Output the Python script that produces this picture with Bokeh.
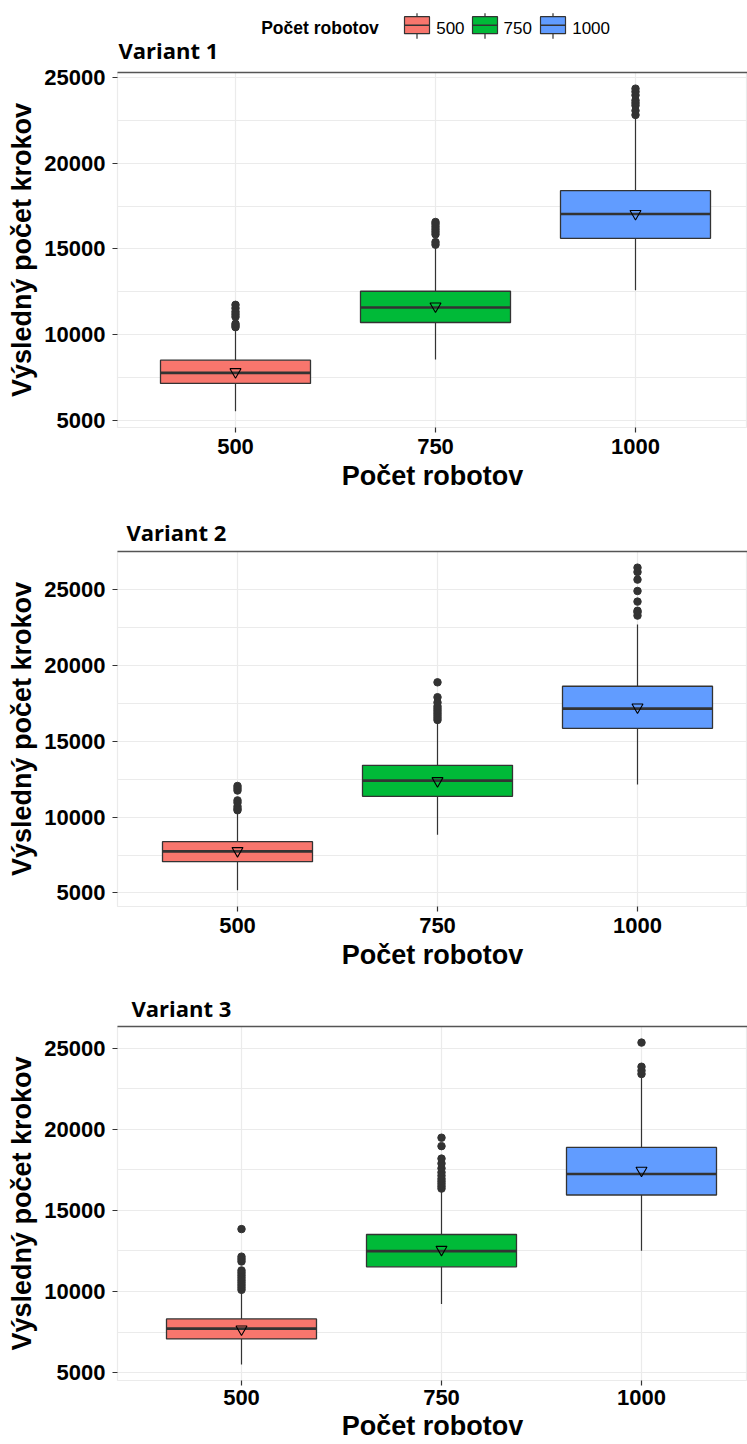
from bokeh.plotting import figure
from bokeh.models import Range1d, FixedTicker, LinearAxis, ColumnDataSource, NumeralTickFormatter
from bokeh.layouts import column
from bokeh.embed import file_html
from bokeh.resources import INLINE
from bokeh.core.properties import value

# ---------------- data ----------------
robots = ["500", "750", "1000"]
box_colors = ["#F8766D", "#00BA38", "#619CFF"]
legend_title = "Počet robotov"
x_title = "Počet robotov"
y_title = "Výsledný počet krokov"
y_ticks = [5000, 10000, 15000, 20000, 25000]
y_minor = [2500, 7500, 12500, 17500, 22500, 27500]

v1_title = "Variant 1"
v1_q1 = [7174, 10721, 15622]
v1_median = [7791, 11593, 17035]
v1_q3 = [8529, 12541, 18395]
v1_low = [5550, 8570, 12600]
v1_high = [10300, 15200, 22600]
v1_mean = [7850, 11670, 17050]
v1_out_500 = [10450, 10550, 10650, 11050, 11200, 11350, 11550, 11750]
v1_out_750 = [15250, 15400, 15850, 16000, 16150, 16300, 16450, 16570]
v1_out_1000 = [22800, 23050, 23350, 23500, 23650, 23950, 24150, 24330]

v2_title = "Variant 2"
v2_q1 = [7058, 11365, 15851]
v2_median = [7738, 12401, 17150]
v2_q3 = [8377, 13410, 18621]
v2_low = [5170, 8840, 12140]
v2_high = [10300, 16300, 22700]
v2_mean = [7780, 12390, 17240]
v2_out_500 = [10450, 10550, 10700, 10950, 11100, 11750, 11900, 12050]
v2_out_750 = [16400, 16550, 16700, 16850, 17000, 17150, 17300, 17550, 17900, 18880]
v2_out_1000 = [23280, 23500, 23600, 24200, 24900, 25650, 26150, 26440]

v3_title = "Variant 3"
v3_q1 = [7074, 11523, 15954]
v3_median = [7708, 12489, 17246]
v3_q3 = [8305, 13517, 18889]
v3_low = [5500, 9230, 12510]
v3_high = [10000, 16250, 23200]
v3_mean = [7670, 12590, 17470]
v3_out_500 = [10100, 10250, 10400, 10550, 10700, 10850, 11000, 11150, 11300, 11850, 12000, 12150, 13850]
v3_out_750 = [16350, 16500, 16650, 16800, 16950, 17150, 17350, 17600, 17900, 18200, 18970, 19490]
v3_out_1000 = [23420, 23630, 23870, 25360]

# ---------------- style ----------------
FIG_W = 747
LEFT = 117
PX_PER_UNIT = 200.0
DARK = "#333333"
GRID = "#EBEBEB"
AX_FONT = "Liberation Sans"
TITLE_FONT = "Open Sans"
TITLE_SIZE = "22px"
BOX_W = 0.75


def make_panel(title, q1, med, q3, low, high, mean, outs, top, frame_h, bottom, x_start,
               title_dx=0, title_standoff=10, x_label_standoff=6, x_axis_standoff=4):
    pos = [i + 1 for i in range(len(robots))]
    all_hi = max(max(high), max(max(o) for o in outs))
    all_lo = min(min(low), min(min(o) for o in outs))
    rng = all_hi - all_lo
    y0, y1 = all_lo - 0.05 * rng, all_hi + 0.05 * rng
    x1 = x_start + (FIG_W - LEFT) / PX_PER_UNIT

    p = figure(width=FIG_W, height=top + frame_h + bottom,
               x_range=Range1d(x_start, x1), y_range=Range1d(y0, y1),
               output_backend="svg", toolbar_location=None, title=title,
               min_border_top=top, min_border_bottom=bottom, min_border_left=LEFT, min_border_right=0)
    p.background_fill_color = "white"
    p.border_fill_color = "white"
    p.outline_line_color = GRID
    p.outline_line_width = 1.2

    src = ColumnDataSource(dict(
        x=pos, q1=q1, med=med, q3=q3, low=low, high=high, mean=mean, color=box_colors,
        left=[x - BOX_W / 2 for x in pos], right=[x + BOX_W / 2 for x in pos]))

    p.segment(x0="x", y0="q3", x1="x", y1="high", line_color=DARK, line_width=1.2, source=src)
    p.segment(x0="x", y0="q1", x1="x", y1="low", line_color=DARK, line_width=1.2, source=src)
    p.vbar(x="x", width=BOX_W, bottom="q1", top="q3", fill_color="color", line_color=DARK,
           line_width=1.3, source=src)
    p.segment(x0="left", y0="med", x1="right", y1="med", line_color=DARK, line_width=2.6, source=src)

    ox, oy = [], []
    for x, o in zip(pos, outs):
        ox += [x] * len(o)
        oy += o
    p.scatter(ox, oy, marker="circle", size=7.5, fill_color=DARK, line_color=DARK)
    p.scatter(x="x", y="mean", marker="inverted_triangle", size=11, fill_alpha=0,
              line_color="black", line_width=1.1, source=src)

    # axes
    p.xaxis.ticker = FixedTicker(ticks=pos)
    p.xaxis.major_label_overrides = {x: r for x, r in zip(pos, robots)}
    p.yaxis.ticker = FixedTicker(ticks=y_ticks, minor_ticks=y_minor)
    p.yaxis.formatter = NumeralTickFormatter(format="0")
    p.xaxis.axis_label = x_title
    p.yaxis.axis_label = y_title
    for ax in (p.xaxis, p.yaxis):
        ax.axis_line_color = None
        ax.major_tick_line_color = DARK
        ax.major_tick_line_width = 1.2
        ax.major_tick_out = 5
        ax.major_tick_in = 0
        ax.minor_tick_out = 0
        ax.minor_tick_in = 0
        ax.major_label_text_font = AX_FONT
        ax.major_label_text_font_style = "bold"
        ax.major_label_text_font_size = "22px"
        ax.major_label_text_color = "black"
        ax.axis_label_text_font = AX_FONT
        ax.axis_label_text_font_style = "bold"
        ax.axis_label_text_font_size = "27px"
        ax.axis_label_text_color = "black"
    p.xaxis.major_label_standoff = x_label_standoff
    p.xaxis.axis_label_standoff = x_axis_standoff
    p.yaxis.major_label_standoff = 7
    p.yaxis.axis_label_standoff = 4

    # grid
    p.xgrid.grid_line_color = GRID
    p.xgrid.grid_line_width = 1.2
    p.ygrid.grid_line_color = GRID
    p.ygrid.grid_line_width = 1.2
    p.ygrid.minor_grid_line_color = GRID
    p.ygrid.minor_grid_line_width = 1.2

    # dark line along the top of the panel
    top_ax = LinearAxis(ticker=FixedTicker(ticks=[]), axis_line_color="#555555", axis_line_width=1.5,
                        major_tick_out=0, major_tick_in=0, minor_tick_out=0, minor_tick_in=0,
                        major_label_standoff=0, major_label_text_font_size="0px")
    p.add_layout(top_ax, "above")

    if title:
        p.title.text_font = TITLE_FONT
        p.title.text_font_style = "bold"
        p.title.text_font_size = TITLE_SIZE
        p.title.text_color = "black"
        p.title.align = "left"
        p.title.offset = title_dx
        p.title.standoff = title_standoff
    return p


# ---------------- legend strip + first title (coordinates = page pixels) ----------------
LEG_H = 64
lg = figure(width=FIG_W, height=LEG_H, x_range=Range1d(LEFT, FIG_W), y_range=Range1d(LEG_H, 0),
            output_backend="svg", toolbar_location=None,
            min_border_left=LEFT, min_border_right=0, min_border_top=0, min_border_bottom=0)
lg.axis.visible = False
lg.grid.visible = False
lg.outline_line_color = None
key_x = [416.5, 484.5, 552.5]
key_y = 24.7
lg.segment(x0=key_x, y0=[key_y - 12] * 3, x1=key_x, y1=[key_y + 13.5] * 3, line_color=DARK, line_width=1.2)
lg.rect(x=key_x, y=[key_y] * 3, width=25, height=17, fill_color=box_colors, line_color=DARK, line_width=1.2)
lg.segment(x0=[k - 12.5 for k in key_x], y0=[key_y] * 3, x1=[k + 12.5 for k in key_x], y1=[key_y] * 3,
           line_color=DARK, line_width=1.6)
lg.text(x=[260.7], y=[27], text=[legend_title], text_font=value(AX_FONT), text_font_style="bold",
        text_font_size="17.5px", text_baseline="middle", text_align="left", text_color="black")
lg.text(x=[435.7, 503, 571.7], y=[27] * 3, text=robots, text_font=value(AX_FONT),
        text_font_size="17px", text_baseline="middle", text_align="left", text_color="black")
# title of the first panel
lg.text(x=[118], y=[49], text=[v1_title], text_font=value(TITLE_FONT), text_font_style="bold",
        text_font_size=TITLE_SIZE, text_baseline="middle", text_align="left", text_color="black")

p1 = make_panel(None, v1_q1, v1_median, v1_q3, v1_low, v1_high, v1_mean,
                [v1_out_500, v1_out_750, v1_out_1000], top=8, frame_h=355, bottom=67,
                x_start=0.41)
p2 = make_panel(v2_title, v2_q1, v2_median, v2_q3, v2_low, v2_high, v2_mean,
                [v2_out_500, v2_out_750, v2_out_1000], top=57, frame_h=355, bottom=66,
                x_start=0.40, title_dx=9, title_standoff=9)
p3 = make_panel(v3_title, v3_q1, v3_median, v3_q3, v3_low, v3_high, v3_mean,
                [v3_out_500, v3_out_750, v3_out_1000], top=54, frame_h=354, bottom=63,
                x_start=0.38, title_dx=14, title_standoff=7, x_label_standoff=4, x_axis_standoff=3)

layout = column(lg, p1, p2, p3, spacing=0)
open("out.html", "w").write(file_html(layout, INLINE))
